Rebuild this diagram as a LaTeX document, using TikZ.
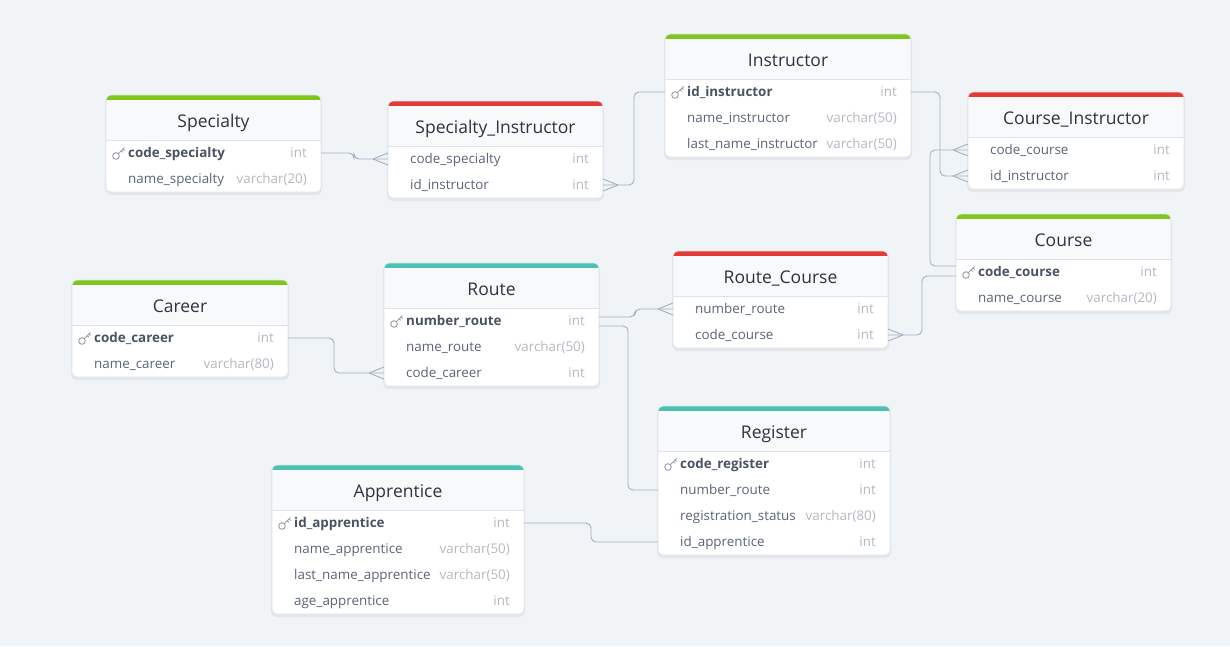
\documentclass[tikz,border=0pt]{standalone}
\usepackage{fontspec}
\setmainfont{Open Sans}
\definecolor{bgcol}{HTML}{F0F4F7}
\definecolor{bordercol}{HTML}{E1E6EC}
\definecolor{hdrcol}{HTML}{F7F9FB}
\definecolor{divcol}{HTML}{DCE3EC}
\definecolor{titlecol}{HTML}{2D3340}
\definecolor{fieldcol}{HTML}{5B6577}
\definecolor{keycol}{HTML}{4A5363}
\definecolor{typecol}{HTML}{B4B9C0}
\definecolor{conncol}{HTML}{A3AEC0}
\definecolor{bargreen}{HTML}{7EC61B}
\definecolor{barred}{HTML}{E33B36}
\definecolor{barteal}{HTML}{4CC0B2}

\tikzset{
  tabtitle/.style={text=titlecol, font=\fontsize{17.5}{20}\selectfont, inner sep=0pt},
  rowbox/.style={minimum height=26pt, inner sep=0pt, outer sep=0pt},
  fieldtxt/.style={text=fieldcol, font=\fontsize{13.4}{15}\selectfont, inner sep=0pt},
  keytxt/.style={text=keycol, font=\fontsize{13.4}{15}\selectfont\bfseries, inner sep=0pt},
  typetxt/.style={text=typecol, font=\fontsize{13.4}{15}\selectfont, inner sep=0pt},
  conn/.style={conncol, line width=0.9pt, rounded corners=5pt},
  keyicon/.pic={
    \draw[typecol!70!fieldcol, line width=0.9pt] (-3,3) circle (3.3pt);
    \draw[typecol!70!fieldcol, line width=0.9pt] (-0.7,0.7) -- (5.5,-5.5) (2.3,-2.3) -- (3.8,-0.8) (4,-4) -- (5.5,-2.5);
  }
}

% table: id, left, top, width, rows, bar colour, title, fields
\newcommand{\ertable}[8]{%
  \pgfmathsetmacro{\tbot}{#3+45+26*#5}
  \pgfmathsetmacro{\tright}{#2+#4}
  \fill[black, opacity=0.05, rounded corners=6pt] (#2-1,#3+1) rectangle (\tright+1,\tbot+3);
  \begin{scope}
    \clip[rounded corners=5pt] (#2,#3) rectangle (\tright,\tbot);
    \fill[white] (#2,#3) rectangle (\tright,\tbot);
    \fill[hdrcol] (#2,#3) rectangle (\tright,#3+45);
    \fill[#6] (#2,#3) rectangle (\tright,#3+5);
    \draw[divcol] (#2,#3+45) -- (\tright,#3+45);
  \end{scope}
  \draw[bordercol, line width=0.6pt, rounded corners=5pt] (#2,#3) rectangle (\tright,\tbot);
  \node[tabtitle, anchor=base] (#1) at ({#2+#4/2},#3+32) {#7};
  \foreach \k/\fname/\ftype [count=\i] in {#8}{
    \node[rowbox, minimum width=#4pt] (#1-\i) at ({#2+#4/2},{#3+32+26*\i}) {};
    \ifnum\k=1
      \pic at ([xshift=13pt]#1-\i.west) {keyicon};
      \node[keytxt, anchor=base west] at ([xshift=22pt, yshift=-4.5pt]#1-\i.west) {\fname};
    \else
      \node[fieldtxt, anchor=base west] at ([xshift=22pt, yshift=-4.5pt]#1-\i.west) {\fname};
    \fi
    \node[typetxt, anchor=base east] at ([xshift=-14pt, yshift=-4.5pt]#1-\i.east) {\ftype};
  }
}

% crow's foot on the left or right edge of a row
\newcommand{\crowL}[1]{\draw[conn] ([xshift=-15pt]#1) -- ([yshift=6pt]#1) ([xshift=-15pt]#1) -- ([yshift=-6pt]#1);}
\newcommand{\crowR}[1]{\draw[conn] ([xshift=15pt]#1) -- ([yshift=6pt]#1) ([xshift=15pt]#1) -- ([yshift=-6pt]#1);}

\begin{document}
\begin{tikzpicture}[x=1pt, y=-1pt]
  \fill[bgcol] (0,0) rectangle (1230,646);
  \useasboundingbox (0,0) rectangle (1230,646);

  % Tables
  \ertable{spec}{106}{95}{215}{2}{bargreen}{Specialty}{1/code\_specialty/int, 0/name\_specialty/varchar(20)}
  \ertable{spin}{388}{101}{215}{2}{barred}{Specialty\_Instructor}{0/code\_specialty/int, 0/id\_instructor/int}
  \ertable{inst}{665}{34}{246}{3}{bargreen}{Instructor}{1/id\_instructor/int, 0/name\_instructor/varchar(50), 0/last\_name\_instructor/varchar(50)}
  \ertable{cins}{968}{92}{216}{2}{barred}{Course\_Instructor}{0/code\_course/int, 0/id\_instructor/int}
  \ertable{crs}{956}{214}{215}{2}{bargreen}{Course}{1/code\_course/int, 0/name\_course/varchar(20)}
  \ertable{car}{72}{280}{216}{2}{bargreen}{Career}{1/code\_career/int, 0/name\_career/varchar(80)}
  \ertable{rt}{384}{263}{215}{3}{barteal}{Route}{1/number\_route/int, 0/name\_route/varchar(50), 0/code\_career/int}
  \ertable{rc}{673}{251}{215}{2}{barred}{Route\_Course}{0/number\_route/int, 0/code\_course/int}
  \ertable{reg}{658}{406}{232}{4}{barteal}{Register}{1/code\_register/int, 0/number\_route/int, 0/registration\_status/varchar(80), 0/id\_apprentice/int}
  \ertable{app}{272}{465}{252}{4}{barteal}{Apprentice}{1/id\_apprentice/int, 0/name\_apprentice/varchar(50), 0/last\_name\_apprentice/varchar(50), 0/age\_apprentice/int}

  % Relations
  \draw[conn] (spec-1.east) -- ++(33,0) |- (spin-1.west);
  \crowL{spin-1.west}
  \draw[conn] (inst-1.west) -- ++(-31,0) |- (spin-2.east);
  \crowR{spin-2.east}
  \draw[conn] (inst-1.east) -- ++(29,0) |- (cins-2.west);
  \crowL{cins-2.west}
  \draw[conn] ([yshift=6pt]crs-1.west) -- ++(-26,0) |- (cins-1.west);
  \crowL{cins-1.west}
  \draw[conn] ([yshift=-4pt]crs-1.west) -- ++(-34,0) |- (rc-2.east);
  \crowR{rc-2.east}
  \draw[conn] ([yshift=4pt]rt-1.east) -- ++(36,0) |- (rc-1.west);
  \crowL{rc-1.west}
  \draw[conn] ([yshift=-5pt]rt-1.east) -- ++(29,0) |- (reg-2.west);
  \draw[conn] (car-1.east) -- ++(46,0) |- (rt-3.west);
  \crowL{rt-3.west}
  \draw[conn] (app-1.east) -- ++(67,0) |- (reg-4.west);
\end{tikzpicture}
\end{document}
